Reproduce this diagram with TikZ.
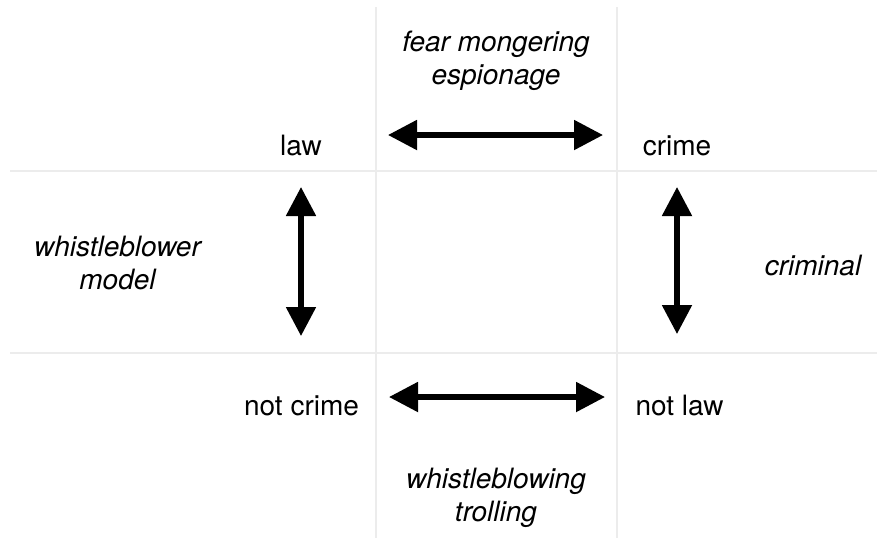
\documentclass[tikz,border=0pt]{standalone}
\usepackage{fontspec}
\setmainfont{TeX Gyre Heros}
\usetikzlibrary{arrows.meta}
\tikzset{
  term/.style={anchor=base, inner sep=0pt, font=\fontsize{14}{16.5}\selectfont},
  rel/.style={term, align=center, font=\fontsize{14}{16.5}\selectfont\itshape},
  grid line/.style={gray!15, line width=0.7pt},
  opp/.style={<->, line width=2.6pt}
}
\begin{document}
\begin{tikzpicture}[line join=round, >={Triangle[length=14.5pt,width=14.5pt]}, x=0.5pt, y=-0.5pt]
\def \xmax{877};
\def \ymax{538};
\useasboundingbox (0,0) rectangle (\xmax,\ymax);
% square of opposition
\foreach \x in {376,617}{\draw[grid line] (\x,7) -- (\x,\ymax);}
\foreach \y in {171,353}{\draw[grid line] (10,\y) -- (\xmax,\y);}
\node[term] (law) at (301,155) {law};
\node[term] (crime) at (677,155) {crime};
\node[term] (notcrime) at (301.5,415) {not crime};
\node[term] (notlaw) at (679.5,415) {not law};
% base of a two-line node is its last line
\node[rel] (fear) at (496,84) {fear mongering\\espionage};
\node[rel] (model) at (117.5,289) {whistleblower\\model};
\node[rel] (criminal) at (813,275) {criminal};
\node[rel] (trolling) at (496,521) {whistleblowing\\trolling};
% arrow ends
\coordinate (topW) at (388,135);
\coordinate (topE) at (603,135);
\coordinate (botW) at (389,397);
\coordinate (botE) at (605,397);
\coordinate (leftN) at (301,187);
\coordinate (leftS) at (301,336);
\coordinate (rightN) at (677,187);
\coordinate (rightS) at (677,334);
\draw[opp] (topW) -- (topE);
\draw[opp] (botW) -- (botE);
\draw[opp] (leftN) -- (leftS);
\draw[opp] (rightN) -- (rightS);
\end{tikzpicture}
\end{document}
